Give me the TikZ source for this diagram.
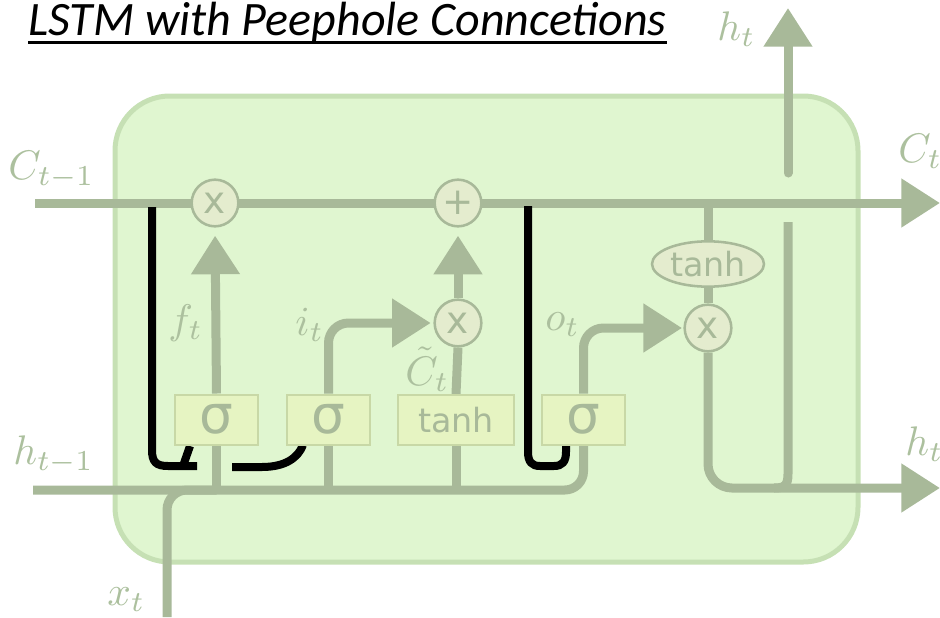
\documentclass[tikz,border=0pt]{standalone}
\usepackage{graphicx}
\usepackage{fontspec}
\newfontfamily\titlefont{Carlito}
\newfontfamily\dejavu{DejaVu Sans}
\usetikzlibrary{arrows.meta,shapes.geometric}
\definecolor{lineC}{RGB}{168,185,153}
\definecolor{labC}{RGB}{172,192,158}
\definecolor{cellfill}{RGB}{224,246,208}
\definecolor{celldraw}{RGB}{198,224,180}
\definecolor{opfill}{RGB}{228,236,206}
\definecolor{gatefill}{RGB}{230,244,194}
\definecolor{gatedraw}{RGB}{200,216,166}
\newcommand\mylbl[1]{\scalebox{3.1}{$#1$}}
\pgfdeclarelayer{back}
\pgfdeclarelayer{lines}
\pgfsetlayers{back,lines,main}
\begin{document}
\begin{tikzpicture}[x=0.75pt,y=-0.75pt,
  flow/.style={draw=lineC, line width=6.75pt},
  tip/.style={-{Triangle[length=29pt,width=35pt]}},
  peep/.style={draw=black, line width=6pt},
  gate/.style={rectangle, draw=gatedraw, line width=1.5pt, fill=gatefill, minimum height=37.5pt, inner sep=0pt, text=lineC},
  sigfont/.style={font=\dejavu\fontsize{40}{40}\selectfont},
  tanhfont/.style={font=\dejavu\fontsize{25}{25}\selectfont},
  op/.style={circle, draw=lineC, line width=1.9pt, fill=opfill, minimum size=35pt, inner sep=0pt, text=lineC, font=\dejavu\fontsize{28}{28}\selectfont},
  lab/.style={text=labC, inner sep=0pt, anchor=base west, font=\normalsize}]
\useasboundingbox (0,0) rectangle (940,618);

% title
\node[anchor=base west, inner sep=0pt, font=\titlefont\itshape\fontsize{36}{40}\selectfont] (title) at (28,35) {LSTM with Peephole Conncetions};
\draw[line width=2.25pt] ([yshift=-5.3pt]title.base west) -- ([yshift=-5.3pt]title.base east);

% gates
\node[gate, minimum width=62.25pt, sigfont] (sf) at (216.5,419.5) {σ};
\node[gate, minimum width=62.25pt, sigfont] (si) at (328.5,419.5) {σ};
\node[gate, minimum width=87pt, tanhfont] (tb) at (456,420) {tanh};
\node[gate, minimum width=62.25pt, sigfont] (so) at (583.5,419.5) {σ};

% pointwise ops
\node[op] (mf) at (215,203) {x};
\node[op] (pl) at (458,203) {+};
\node[op] (mi) at (458,323) {x};
\node[op] (mo) at (708,328) {x};
\node[ellipse, draw=lineC, line width=1.9pt, fill=opfill, minimum width=84pt, minimum height=34pt, inner sep=0pt, text=lineC, tanhfont] (te) at (708,264) {tanh};

% labels
\node[lab] (lC0) at (8,179) {\mylbl{C_{t-1}}};
\node[lab] (lh0) at (13,464) {\mylbl{h_{t-1}}};
\node[lab] (lx) at (107,605) {\mylbl{x_t}};
\node[lab] (lht) at (717,40) {\mylbl{h_t}};
\node[lab] (lCt) at (898,162) {\mylbl{C_t}};
\node[lab] (lh1) at (905,455) {\mylbl{h_t}};
\node[lab] (lf) at (168,333) {\mylbl{f_t}};
\node[lab] (li) at (295,335) {\mylbl{i_t}};
\node[lab] (lCtil) at (405,385) {\mylbl{\tilde{C}_t}};
\node[lab] (lo) at (545,330) {\mylbl{o_t}};

% free ends
\coordinate (cin) at (35,203);
\coordinate (cout) at (940,203);
\coordinate (hin) at (33,490);
\coordinate (xin) at (167,617);
\coordinate (hout) at (940,488);
\coordinate (hup0) at (788,173);
\coordinate (hup1) at (788,8);
\coordinate (hv0) at (788,222);

\begin{pgfonlayer}{back}
\draw[draw=celldraw, fill=cellfill, line width=3.75pt, rounded corners=41pt] (115,96) rectangle (858,562);
\end{pgfonlayer}

\begin{pgfonlayer}{lines}
\draw[flow, tip] (cin) -- (cout);
\draw[flow, rounded corners=14pt] (hin) -| (so.south);
\draw[flow, rounded corners=15pt] (xin) |- (sf.south |- hin);
\draw[flow] (sf.south) -- (sf.south |- hin);
\draw[flow] (si.south) -- (si.south |- hin);
\draw[flow] (tb.south) -- (tb.south |- hin);
\draw[flow, tip, shorten >=6pt] (sf.north) -- (mf.south);
\draw[flow, tip, rounded corners=15pt, shorten >=2pt] (si.north) |- (mi.west);
\draw[flow] (tb.north) -- (mi.south);
\draw[flow, tip, shorten >=6pt] (mi.north) -- (pl.south);
\draw[flow, tip, rounded corners=15pt, shorten >=1pt] (so.north) |- (mo.west);
\draw[flow] (te.north) -- (te.north |- cin);
\draw[flow] (te.south) -- (mo.north);
\draw[flow, tip, rounded corners=18pt] (mo.south) |- (hout);
\draw[flow, tip, line cap=round] (hup0) -- (hup1);
\draw[flow] (hv0) -- (788,474) .. controls (788,486) and (784,488) .. (774,488);
% peephole connections
\draw[peep] (152,207) -- (152,450) .. controls (152,462) and (156,466) .. (168,466) -- (197,466);
\draw[peep] (183,466) -- (190,446);
\draw[peep] (232,467) -- (262,467) .. controls (285,467) and (298,458) .. (303,445);
\draw[peep] (528,206) -- (528,452) .. controls (528,462) and (532,466) .. (540,466) -- (554,466) .. controls (562,466) and (566,462) .. (566,452) -- (566,445);
\end{pgfonlayer}
\end{tikzpicture}
\end{document}
